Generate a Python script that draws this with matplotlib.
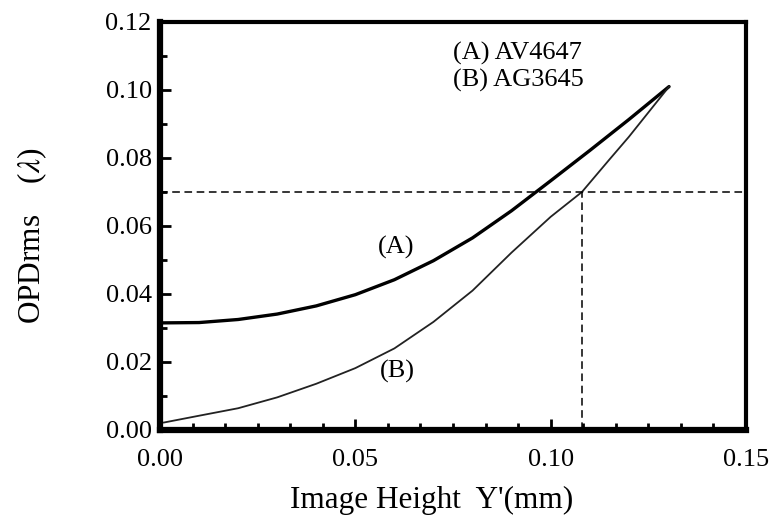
import matplotlib
matplotlib.use("Agg")
import matplotlib.pyplot as plt
from matplotlib.ticker import AutoMinorLocator

# ---- data ----
x_a = [0.0, 0.01, 0.02, 0.03, 0.04, 0.05, 0.06, 0.07, 0.08, 0.09, 0.10, 0.11, 0.12, 0.1303]
y_a = [0.0315, 0.0316, 0.0325, 0.0341, 0.0365, 0.0398, 0.0442, 0.0498, 0.0565, 0.0645,
       0.0733, 0.0822, 0.0913, 0.1010]

x_b = [0.001, 0.01, 0.02, 0.03, 0.04, 0.05, 0.06, 0.07, 0.08, 0.09, 0.10, 0.108, 0.115, 0.12, 0.1303]
y_b = [0.0022, 0.0042, 0.0064, 0.0096, 0.0136, 0.0182, 0.0240, 0.0318, 0.0410, 0.0522,
       0.0627, 0.0700, 0.0795, 0.0862, 0.1010]

h_ref = 0.07     # horizontal reference level
v_ref = 0.108    # vertical reference position

x_ticks = [0.00, 0.05, 0.10, 0.15]
y_ticks = [0.00, 0.02, 0.04, 0.06, 0.08, 0.10, 0.12]
legend_lines = ["(A) AV4647", "(B) AG3645"]
curve_labels = ["(A)", "(B)"]

plt.rcParams['font.family'] = ['Liberation Serif', 'DejaVu Serif']
plt.rcParams['mathtext.fontset'] = 'stix'

fig = plt.figure(figsize=(7.70, 5.19), dpi=100)
ax = fig.add_axes([160/770, 1-430/519, (746-160)/770, (430-22)/519])

ax.plot(x_a, y_a, color='black', lw=2.4, solid_capstyle='round')
ax.plot(x_b, y_b, color='#222222', lw=1.3)

ax.plot([0, 0.15], [h_ref, h_ref], color='black', lw=1.1, dashes=(5, 3))
ax.plot([v_ref, v_ref], [0, h_ref], color='black', lw=1.1, dashes=(5, 3))

ax.set_xlim(0, 0.15)
ax.set_ylim(0, 0.12)
ax.set_xticks(x_ticks)
ax.set_xticklabels([f"{v:.2f}" for v in x_ticks])
ax.set_yticks(y_ticks)
ax.set_yticklabels([f"{v:.2f}" for v in y_ticks])
ax.xaxis.set_minor_locator(AutoMinorLocator(6))
ax.yaxis.set_minor_locator(AutoMinorLocator(2))

ax.tick_params(which='both', direction='in', top=False, right=False, width=2)
ax.tick_params(which='major', length=8)
ax.tick_params(which='minor', length=5)
ax.tick_params(axis='x', which='major', pad=14, labelsize=19)
ax.tick_params(axis='y', which='major', pad=6, labelsize=19)

for s in ['left', 'bottom']:
    ax.spines[s].set_linewidth(4.5)
for s in ['top', 'right']:
    ax.spines[s].set_linewidth(3)

ax.text(0.0751, 0.1108, legend_lines[0], fontsize=19, ha='left', va='center')
ax.text(0.0751, 0.1027, legend_lines[1], fontsize=19, ha='left', va='center')
ax.text(0.0605, 0.0538, curve_labels[0], fontsize=19, ha='center', va='center')
ax.text(0.0607, 0.0172, curve_labels[1], fontsize=19, ha='center', va='center')

fig.text(32/770, 1-236/519, r"OPDrms    ($\lambda$)", rotation=90, fontsize=22.5,
         ha='center', va='center')
fig.text(432/770, 1-508/519, "Image Height  Y'(mm)", fontsize=22.5,
         ha='center', va='baseline')

fig.savefig("out.png", dpi=100)
